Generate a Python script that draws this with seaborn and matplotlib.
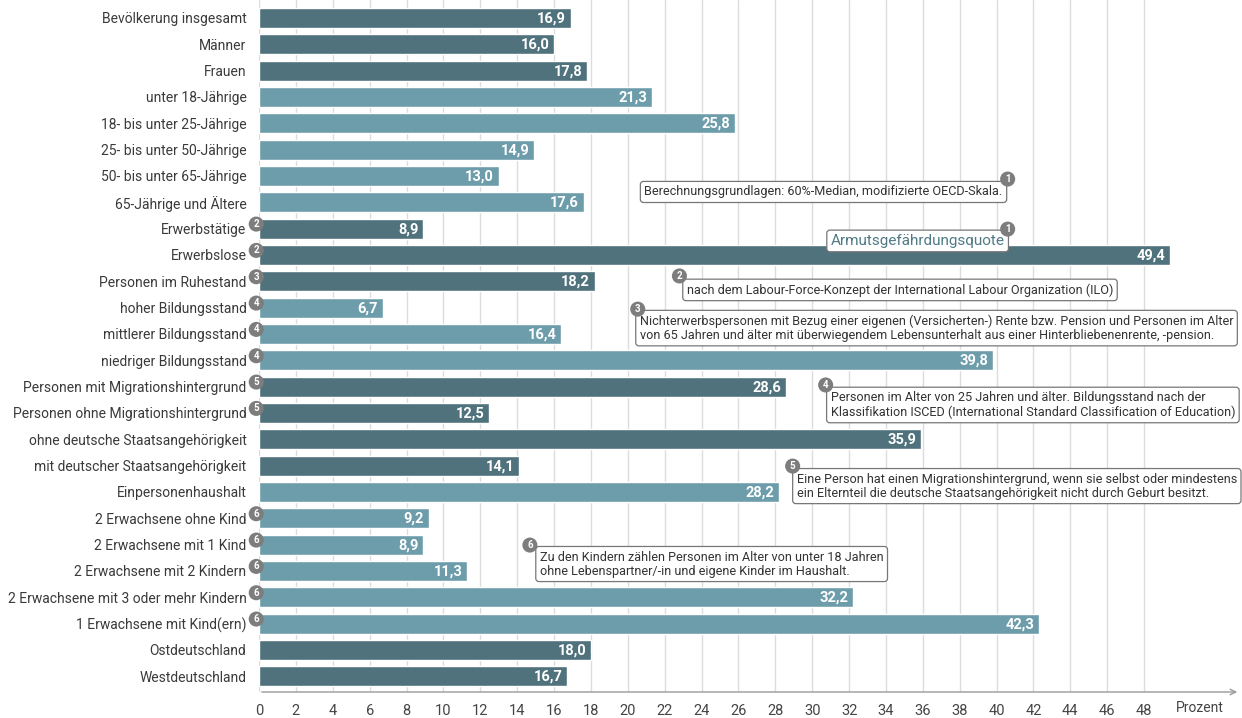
import matplotlib
matplotlib.use('Agg')
import matplotlib.pyplot as plt
import seaborn as sns
import pandas as pd

# Daten: Armutsgefährdungsquote nach Gruppen (Prozent)
gruppen = ['Bevölkerung insgesamt', 'Männer', 'Frauen', 'unter 18-Jährige',
           '18- bis unter 25-Jährige', '25- bis unter 50-Jährige', '50- bis unter 65-Jährige',
           '65-Jährige und Ältere', 'Erwerbstätige', 'Erwerbslose', 'Personen im Ruhestand',
           'hoher Bildungsstand', 'mittlerer Bildungsstand', 'niedriger Bildungsstand',
           'Personen mit Migrationshintergrund', 'Personen ohne Migrationshintergrund',
           'ohne deutsche Staatsangehörigkeit', 'mit deutscher Staatsangehörigkeit',
           'Einpersonenhaushalt', '2 Erwachsene ohne Kind', '2 Erwachsene mit 1 Kind',
           '2 Erwachsene mit 2 Kindern', '2 Erwachsene mit 3 oder mehr Kindern',
           '1 Erwachsene mit Kind(ern)', 'Ostdeutschland', 'Westdeutschland']
quoten = [16.9, 16.0, 17.8, 21.3, 25.8, 14.9, 13.0, 17.6, 8.9, 49.4, 18.2, 6.7, 16.4,
          39.8, 28.6, 12.5, 35.9, 14.1, 28.2, 9.2, 8.9, 11.3, 32.2, 42.3, 18.0, 16.7]
farbgruppe = (['dunkel'] * 3 + ['hell'] * 5 + ['dunkel'] * 3 + ['hell'] * 3
              + ['dunkel'] * 4 + ['hell'] * 6 + ['dunkel'] * 2)
fussnoten = {'Erwerbstätige': '2', 'Erwerbslose': '2', 'Personen im Ruhestand': '3',
             'hoher Bildungsstand': '4', 'mittlerer Bildungsstand': '4',
             'niedriger Bildungsstand': '4', 'Personen mit Migrationshintergrund': '5',
             'Personen ohne Migrationshintergrund': '5', '2 Erwachsene ohne Kind': '6',
             '2 Erwachsene mit 1 Kind': '6', '2 Erwachsene mit 2 Kindern': '6',
             '2 Erwachsene mit 3 oder mehr Kindern': '6', '1 Erwachsene mit Kind(ern)': '6'}
x_ticks = list(range(0, 50, 2))

df = pd.DataFrame({'gruppe': gruppen, 'quote': quoten, 'farbe': farbgruppe})

sns.set_style('white')
plt.rcParams['font.family'] = ['Roboto', 'DejaVu Sans']

DUNKEL = '#50727c'
HELL = '#6d9dab'
GRAU = '#7d7d7d'

fig = plt.figure(figsize=(12.42, 7.18), dpi=100)
ax = fig.add_axes([259 / 1242, 26 / 718, 981 / 1242, 692 / 718])

for x in x_ticks:
    ax.axvline(x, color='#dcdcdc', lw=1, zorder=0)

sns.barplot(data=df, x='quote', y='gruppe', hue='farbe', palette={'dunkel': DUNKEL, 'hell': HELL},
            dodge=False, legend=False, width=0.76, saturation=1, ax=ax, zorder=2)

ax.set_xlim(0, 53.2)
ax.set_ylim(25.6, -0.68)
ax.set_xticks(x_ticks)
ax.set_xlabel('')
ax.set_ylabel('')
for s in ax.spines.values():
    s.set_visible(False)
ax.tick_params(axis='x', direction='inout', length=7, color='#999999', labelsize=10.5,
               labelcolor='#444444', pad=5)
ax.tick_params(axis='y', length=0, labelsize=10, labelcolor='#3a3a3a', pad=9)
ax.annotate('', xy=(1.0, 0), xytext=(0, 0), xycoords='axes fraction',
            arrowprops=dict(arrowstyle='->', color='#999999', lw=1))
ax.text(49.7, -0.0125, 'Prozent', ha='left', va='top', fontsize=10, color='#444444',
        transform=ax.get_xaxis_transform(), clip_on=False)

# Werte in den Balken
for i, v in enumerate(quoten):
    ax.text(v - 0.25, i + 0.03, f'{v:.1f}'.replace('.', ','), ha='right', va='center',
            color='white', fontsize=10.5, fontweight='bold', zorder=4)


def kreis(x, y, nr):
    ax.text(x, y, nr, ha='center', va='center', color='white', fontsize=7, fontweight='bold',
            bbox=dict(boxstyle='circle,pad=0.26', fc=GRAU, ec='none'), zorder=6, clip_on=False)


# Fußnoten-Kreise an den Beschriftungen
for i, g in enumerate(gruppen):
    if g in fussnoten:
        kreis(-0.15, i - 0.17, fussnoten[g])

box = dict(boxstyle='round,pad=0.32,rounding_size=0.25', fc='white', ec='#777777', lw=0.9)
hinweise = [
    (20.9, 6.61, 'Berechnungsgrundlagen: 60%-Median, modifizierte OECD-Skala.', '1', 40.6, 6.12),
    (23.2, 10.33, 'nach dem Labour-Force-Konzept der International Labour Organization (ILO)', '2', 22.8, 9.8),
    (20.65, 11.78, 'Nichterwerbspersonen mit Bezug einer eigenen (Versicherten-) Rente bzw. Pension und Personen im Alter\n'
                   'von 65 Jahren und älter mit überwiegendem Lebensunterhalt aus einer Hinterbliebenenrente, -pension.',
     '3', 20.54, 11.06),
    (31.0, 14.7, 'Personen im Alter von 25 Jahren und älter. Bildungsstand nach der\n'
                 'Klassifikation ISCED (International Standard Classification of Education)', '4', 30.73, 13.94),
    (29.16, 17.78, 'Eine Person hat einen Migrationshintergrund, wenn sie selbst oder mindestens\n'
                   'ein Elternteil die deutsche Staatsangehörigkeit nicht durch Geburt besitzt.', '5', 28.94, 17.02),
    (15.23, 20.74, 'Zu den Kindern zählen Personen im Alter von unter 18 Jahren\n'
                   'ohne Lebenspartner/-in und eigene Kinder im Haushalt.', '6', 14.69, 20.02),
]
for tx, ty, txt, nr, kx, ky in hinweise:
    ax.text(tx, ty, txt, ha='left', va='center', fontsize=9.1, color='#333333', linespacing=1.1,
            bbox=box, zorder=5, clip_on=False)
    kreis(kx, ky, nr)

ax.text(31.0, 8.47, 'Armutsgefährdungsquote', ha='left', va='center', fontsize=11, color='#4f7a85',
        bbox=dict(boxstyle='round,pad=0.25,rounding_size=0.2', fc='white', ec='#777777', lw=0.9), zorder=5)
kreis(40.6, 8.02, '1')

fig.savefig('out.png', dpi=100)
